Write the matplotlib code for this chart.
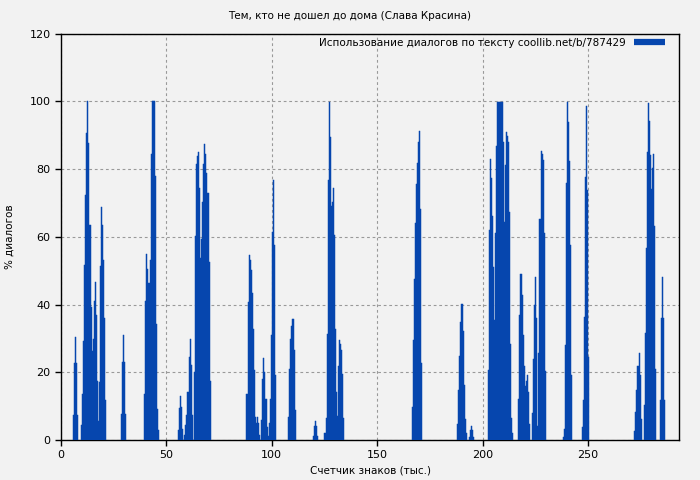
import matplotlib
matplotlib.use("Agg")
import matplotlib.pyplot as plt
from matplotlib.lines import Line2D
import numpy as np

title = "Тем, кто не дошел до дома (Слава Красина)"
xlabel = "Счетчик знаков (тыс.)"
ylabel = "% диалогов"
legend_label = "Использование диалогов по тексту coollib.net/b/787429"
bin_width = 0.5  # thousand characters per bar

# cluster start positions (thousand chars) and bar heights (%)
seg_starts = [5.5, 9.5, 28.5, 39.5, 55.5, 88, 107.5, 119.5, 125, 166.5,
              188, 193.5, 202.5, 217, 223.5, 238, 247, 272, 276.5, 284]
seg_values = [
    [7.4, 22.7, 30.4, 22.7, 7.4],
    [4.4, 13.6, 29.2, 51.6, 72.3, 90.6, 100, 87.6, 63.4, 39.2, 26.3, 29.8,
     41, 46.6, 36.9, 17.4, 5.6, 17.1, 51.3, 68.7, 63.4, 53.1, 36, 11.8],
    [7.7, 23, 31, 23, 7.7],
    [13.6, 41.0, 54.9, 50.4, 46.3, 53.1, 84.4, 100, 100, 100, 77.9, 34.2, 9.1, 2.9],
    [2.9, 9.4, 13, 9.7, 3.2, 0, 1.5, 4.4, 7.4, 14.2, 24.5, 29.8, 22.1, 7.4, 0,
     20, 60.2, 81.4, 83.8, 85, 74.3, 53.7, 59.3, 70.2, 81.4, 87.3, 84.4, 78.8,
     72.9, 52.5, 17.4],
    [13.6, 40.7, 54.6, 53.1, 50.1, 43.4, 32.7, 20.6, 6.8, 5, 6.8, 5, 1.5, 0,
     5.9, 18, 24.2, 20, 12.1, 3.8, 1.2, 5, 12.1, 31, 61.4, 76.7, 57.5, 19.2],
    [6.8, 20.9, 29.8, 33.6, 35.7, 35.7, 26.5, 8.8],
    [1.2, 4.1, 5.6, 4.1, 1.2],
    [2.1, 6.5, 31.3, 76.7, 99.7, 89.4, 69, 70.2, 74.3, 60.5, 32.7, 14.2, 7.1,
     21.8, 29.5, 28.3, 26.5, 19.5, 6.5],
    [9.7, 29.5, 47.5, 64, 75.5, 81.7, 87.9, 91.2, 68.1, 22.7],
    [4.7, 14.7, 24.8, 34.8, 40.1, 32.2, 16.2, 6.2, 2.1],
    [0.9, 2.9, 4.1, 2.9, 0.9],
    [20.6, 61.9, 82.9, 77.3, 66.1, 51, 35.4, 61, 86.7, 99.7, 99.7, 99.7, 99.7,
     99.7, 87.9, 64.3, 81.1, 90.9, 89.7, 87.9, 67.3, 28.3, 6.5, 2.1],
    [12.1, 36.9, 49, 42.8, 31, 21.8, 15.9, 17.4, 19.2, 14.2, 4.7],
    [8, 23.9, 39.8, 48.1, 36, 4.1, 25.7, 65.2, 85.3, 84.4, 82.6, 61, 20.4],
    [0.9, 3.2, 28, 75.8, 99.7, 93.8, 82.3, 57.5, 19.2],
    [3.8, 11.8, 36.3, 77.6, 98.5, 73.7, 24.5],
    [2.7, 8.3, 14.7, 21.8, 25.7, 19.2, 6.2],
    [10.3, 31.6, 56.6, 85, 99.4, 94.1, 84.1, 74, 80.2, 84.4, 63.1, 20.9],
    [11.8, 36, 48.1, 36, 11.8],
]

x_ticks = [0, 50, 100, 150, 200, 250]
y_ticks = [0, 20, 40, 60, 80, 100, 120]

bar_color = "#0646AE"
bg = "#F2F2F2"

xs, hs = [], []
for s, vals in zip(seg_starts, seg_values):
    for i, v in enumerate(vals):
        xs.append(s + bin_width * i)
        hs.append(v)

fig = plt.figure(figsize=(7, 4.8), dpi=100, facecolor=bg)
ax = fig.add_axes([61/700, 40/480, (679-61)/700, (440-33.6)/480])
ax.set_facecolor(bg)

ax.bar(xs, hs, width=bin_width, align="edge", color=bar_color,
       linewidth=0.35, edgecolor=bar_color, zorder=3)

ax.set_xlim(0, 293.2)
ax.set_ylim(0, 120)
ax.set_xticks(x_ticks)
ax.set_yticks(y_ticks)
ax.grid(True, color="#999999", linestyle=(0, (2.5, 2.5)), linewidth=0.8, zorder=0)
for sp in ax.spines.values():
    sp.set_color("black")
    sp.set_linewidth(1.0)
ax.tick_params(direction="out", length=4, width=1, labelsize=8, colors="black")

fig.text(0.5, 1 - 16/480, title, ha="center", va="center", fontsize=7.5)
ax.set_xlabel(xlabel, fontsize=7.5, labelpad=4)
ax.set_ylabel(ylabel, fontsize=7.5, labelpad=11)

handle = Line2D([0], [0], color=bar_color, linewidth=4.5, solid_capstyle="butt")
ax.legend([handle], [legend_label], loc="upper right", frameon=False,
          markerfirst=False, fontsize=7.5, handlelength=3.0,
          bbox_to_anchor=(1 - 8/618, 1 + 2/406),
          borderaxespad=0.2, handletextpad=0.7)

fig.savefig("out.png", dpi=100, facecolor=bg)
